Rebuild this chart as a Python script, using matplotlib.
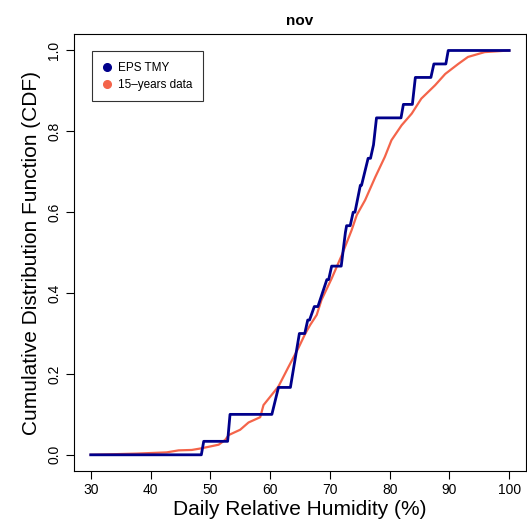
import matplotlib
matplotlib.use('Agg')
import matplotlib.pyplot as plt
from matplotlib.lines import Line2D

plt.rcParams['font.family'] = ['Liberation Sans', 'DejaVu Sans']

# EPS TMY (30 days) - vertices of the plotted cdf line
tmy_rh = [30, 48.5, 48.9, 52.9, 53.3, 60.3, 61.4, 63.4, 64.9, 65.8, 66.3, 66.6, 67.4,
          68.0, 69.5, 69.8, 70.3, 71.9, 72.6, 72.8, 73.4, 73.9, 74.2, 75.1, 75.3,
          76.4, 76.8, 77.3, 77.8, 81.9, 82.3, 83.8, 84.3, 86.9, 87.4, 89.4, 89.8, 100]
tmy_n = [0, 0, 1, 1, 3, 3, 5, 5, 9, 9, 10, 10, 11,
         11, 13, 13, 14, 14, 16.5, 17, 17, 18, 18, 20, 20,
         22, 22, 23, 25, 25, 26, 26, 28, 28, 29, 29, 30, 30]
tmy_cdf = [n / 30 for n in tmy_n]

# 15 years of daily data
obs_rh = [30, 37.7, 42.7, 44.7, 46.9, 48.5, 51.4, 52.5, 53.1, 55.0, 56.4, 58.35, 58.9,
          61.4, 63.1, 64.7, 65.9, 66.7, 67.8, 68.6, 70.3, 72.0, 73.65, 74.5, 75.9,
          77.6, 79.2, 80.3, 82.0, 83.7, 85.3, 87.6, 89.3, 91.5, 93.1, 95.9, 100]
obs_cdf = [0, 0.003, 0.006, 0.011, 0.012, 0.016, 0.025, 0.037, 0.049, 0.062, 0.08, 0.093, 0.123,
           0.169, 0.218, 0.263, 0.30, 0.321, 0.346, 0.383, 0.436, 0.494, 0.556, 0.593, 0.63,
           0.687, 0.737, 0.778, 0.815, 0.844, 0.881, 0.914, 0.942, 0.967, 0.984, 0.996, 1.0]

blue = '#00008B'
red = '#F4644A'

fig = plt.figure(figsize=(5.27, 5.27), dpi=100)
ax = fig.add_axes([0.1404, 0.1063, 0.8576, 0.8286])

ax.plot(tmy_rh, tmy_cdf, color=blue, lw=2.0, zorder=3)
ax.plot(obs_rh, obs_cdf, color=red, lw=1.6, zorder=2)

ax.set_xlim(27.2, 102.8)
ax.set_ylim(-0.04, 1.04)
ax.set_xticks(range(30, 101, 10))
ax.set_yticks([0, 0.2, 0.4, 0.6, 0.8, 1.0])
ax.set_yticklabels(['0.0', '0.2', '0.4', '0.6', '0.8', '1.0'], rotation=90, va='center')
ax.tick_params(length=6, width=0.8, labelsize=10, pad=3)

ax.set_title('nov', fontsize=11, fontweight='bold', pad=7)
ax.set_xlabel('Daily Relative Humidity (%)', fontsize=15, labelpad=2)
ax.set_ylabel('Cumulative Distribution Function (CDF)', fontsize=15, labelpad=5)

handles = [Line2D([], [], marker='o', ls='', color=blue, markersize=5.5),
           Line2D([], [], marker='o', ls='', color=red, markersize=5.5)]
leg = ax.legend(handles, ['EPS TMY', '15\u2013years data'], loc='upper left',
                bbox_to_anchor=(0.04, 0.961), fontsize=8.5, frameon=True, fancybox=False,
                edgecolor='black', handletextpad=0.6, handlelength=0.7,
                borderpad=0.9, borderaxespad=0, labelspacing=0.4)
leg.get_frame().set_linewidth(0.8)

fig.savefig('out.png', dpi=100)
